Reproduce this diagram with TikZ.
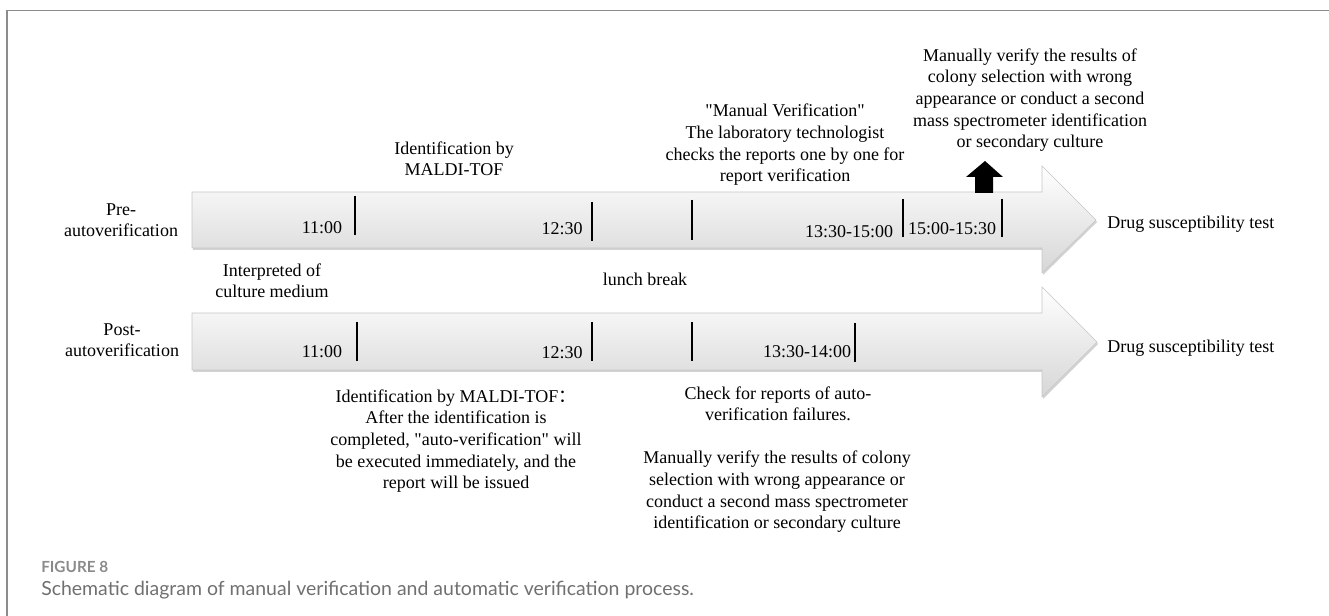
\documentclass[tikz,border=0pt]{standalone}
\usepackage{fontspec}
\setmainfont{Liberation Serif}
\newfontfamily\capfont{Lato}
\newfontfamily\cjk{Noto Sans CJK SC}
\usetikzlibrary{shadows}
\definecolor{capgray}{HTML}{707070}
\definecolor{figgray}{HTML}{8A8A8A}
\definecolor{framegray}{HTML}{8C8C8C}
\tikzset{
  txt/.style={font=\fontsize{13.5}{16.3}\selectfont, align=center, inner sep=0pt, anchor=base},
  tick/.style={line width=1.6pt, black},
  timearrow/.style={top color=white, bottom color=gray!32, draw=gray!45, line width=0.4pt,
    drop shadow={opacity=0.35, shadow xshift=0.8pt, shadow yshift=-1.5pt}},
}
\begin{document}
\begin{tikzpicture}[x=0.75pt, y=-0.75pt]
  \useasboundingbox (0,0) rectangle (1329,616);
  \draw[framegray, line width=1.1pt] (7,616) -- (7,10.5) -- (1329,10.5);

  \path[timearrow] (192,192) -- (1042,192) -- (1042,166) -- (1096,220)
    -- (1042,273) -- (1042,248) -- (192,248) -- cycle;
  \path[timearrow] (192,313) -- (1042,313) -- (1042,287) -- (1097,342)
    -- (1042,397) -- (1042,370) -- (192,370) -- cycle;

  \foreach \x/\a/\b in {355/196/235, 592/202/241, 692/200/240, 903/199/237, 1002/199/237}
    \draw[tick] (\x,\a) -- (\x,\b);
  \foreach \x/\a/\b in {357/322/361, 592/322/361, 692/322/361, 855/323/362}
    \draw[tick] (\x,\a) -- (\x,\b);

  \fill (975,193) -- (975,177) -- (966,177) -- (985,161) -- (1003,177)
    -- (993,177) -- (993,193) -- cycle;

  \node[txt] (pre) at (121,237) {Pre-\\autoverification};
  \node[txt] (post) at (122,357) {Post-\\autoverification};

  \node[txt] (t1) at (322,234) {11:00};
  \node[txt] (t2) at (562,235) {12:30};
  \node[txt] (t3) at (849,238) {13:30-15:00};
  \node[txt] (t4) at (952,235) {15:00-15:30};
  \node[txt] (u1) at (322,358) {11:00};
  \node[txt] (u2) at (562,359) {12:30};
  \node[txt] (u3) at (807,358) {13:30-14:00};

  \node[txt] (ident) at (454,176) {Identification by\\MALDI-TOF};
  \node[txt] (manual) at (785,182) {\textquotedbl Manual Verification\textquotedbl\\The laboratory technologist\\checks the reports one by one for\\report verification};
  \node[txt] (recheck) at (1030,148) {Manually verify the results of\\colony selection with wrong\\appearance or conduct a second\\mass spectrometer identification\\or secondary culture};
  \node[txt, anchor=base west] (drug1) at (1107,229) {Drug susceptibility test};
  \node[txt, anchor=base west] (drug2) at (1107,353) {Drug susceptibility test};

  \node[txt] (interp) at (272,298) {Interpreted of\\culture medium};
  \node[txt] (lunch) at (645,286) {lunch break};

  \node[txt] (auto) at (456,489) {Identification by MALDI-TOF{\cjk ：}\\After the identification is\\completed, \textquotedbl auto-verification\textquotedbl{} will\\be executed immediately, and the\\report will be issued};
  \node[txt] (fail) at (778,421) {Check for reports of auto-\\verification failures.};
  \node[txt] (recheck2) at (777,529) {Manually verify the results of colony\\selection with wrong appearance or\\conduct a second mass spectrometer\\identification or secondary culture};

  \node[anchor=base west, inner sep=0pt, text=figgray, font=\capfont\bfseries\fontsize{11.5}{12}\selectfont] (fig) at (41,573) {FIGURE 8};
  \node[anchor=base west, inner sep=0pt, text=capgray, font=\capfont\fontsize{14.6}{16}\selectfont] (caption) at (41,595) {Schematic diagram of manual verification and automatic verification process.};
\end{tikzpicture}
\end{document}
